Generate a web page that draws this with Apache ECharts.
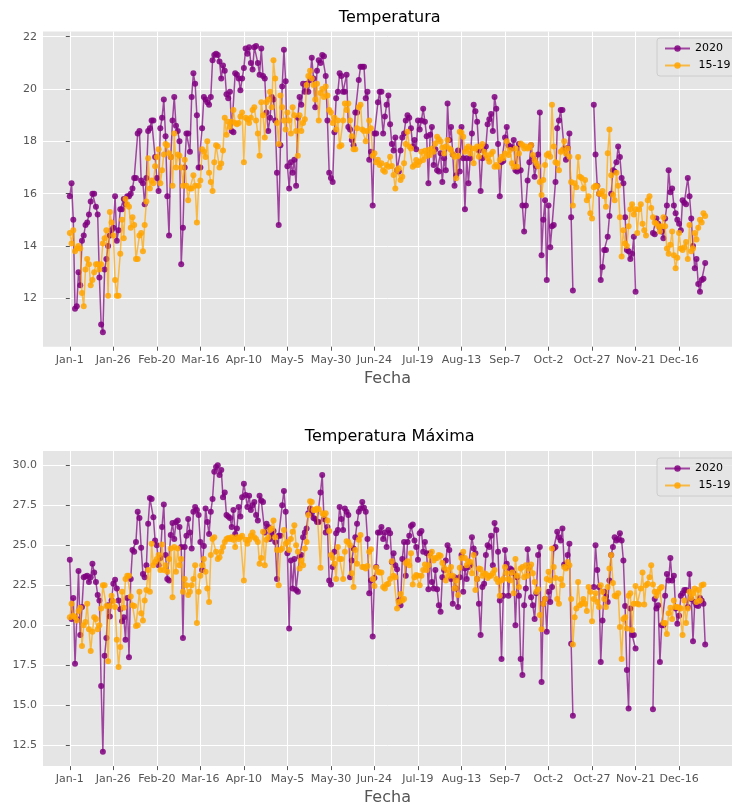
<!DOCTYPE html>
<html>
<head>
<meta charset="utf-8">
<script src="https://cdn.jsdelivr.net/npm/echarts@6/dist/echarts.min.js"></script>
<style>
  html, body { margin: 0; padding: 0; background: #ffffff; }
  #chart { width: 732px; height: 808px; }
</style>
</head>
<body>
<div id="chart"></div>
<script>
// Day-of-year positions (0 = Jan-1) of the x ticks and their labels
const tickDays = [0, 25, 50, 75, 100, 125, 150, 175, 200, 225, 250, 275, 300, 325, 350];
const tickLabels = ['Jan-1', 'Jan-26', 'Feb-20', 'Mar-16', 'Apr-10', 'May-5', 'May-30', 'Jun-24',
                    'Jul-19', 'Aug-13', 'Sep-7', 'Oct-2', 'Oct-27', 'Nov-21', 'Dec-16'];
const tempTicks = [12, 14, 16, 18, 20, 22];
const tmaxTicks = [12.5, 15, 17.5, 20, 22.5, 25, 27.5, 30];

// Mean daily temperature, 2020 (one value per day; null = no record)
const temp2020 = [
  15.9, 16.4, 15.0, 11.6, 11.7, 13.0, 12.5, 14.2, 14.4, 14.8,
  14.9, 15.2, 15.7, 16.0, 16.0, 15.5, 15.2, 12.8, 11.0, 10.7,
  13.1, 13.5, 14.0, 14.4, 14.6, 14.7, 15.9, 14.2, 14.6, 15.4,
  15.4, 15.8, 15.6, 15.9, 15.9, 16.0, 16.2, 16.6, 16.6, 18.3,
  18.4, 16.5, 16.4, 15.6, 16.6, 18.4, 18.5, 18.8, 18.8, 17.4,
  16.6, 16.1, 18.5, 18.9, 19.6, 18.2, 15.9, 14.4,
  17.4, 18.8, 19.7, 18.6, 18.4, 18.0, 13.3, 14.7, 17.0, 18.3,
  18.3, 17.6, 19.7, 20.6, 20.2, 19.0, 17.0, 17.0, 18.5, 19.7,
  19.6, 19.5, 19.4, 19.7, 21.1, 21.3, 21.35, 21.3, 21.05, 20.4,
  20.9, 20.7, 19.8, 19.65, 19.9, 18.4, 18.35, 20.6, 20.55, 20.4,
  19.95, 20.4, 20.8, 21.55, 21.35, 21.6, 21.0, 20.75, 21.6, 21.65,
  21.0, 20.55, 21.55, 20.5, 20.4, 19.1, 18.4, 18.9, 19.7, 19.6,
  18.8, 16.8,
  14.8, 17.85, 20.1, 21.5, 20.3, 17.05, 16.2, 17.2, 16.8, 17.3,
  16.3, 18.9, 19.7, 19.4, 20.2, 19.9, 20.2, 19.9, 20.35, 21.2,
  20.4, 19.3, 20.7, 21.1, 21.0, 21.3, 21.25, 20.5, 18.8, 16.8,
  16.6, 16.45, 18.35, 19.65, 19.9, 20.6, 20.5, 19.9, 19.9, 20.55,
  18.55, 18.45, 18.05, 17.85, 19.1, 19.1, 20.35, 20.85, 20.85, 20.85,
  19.65, 19.9, 17.3, 17.6, 15.55, 18.3, 18.3, 19.5, 19.9, 19.9,
  18.3, 18.95, 19.4, 19.75, 18.65, 17.9, 17.65, 18.15, 16.9, 16.85,
  17.65, 18.15, 18.3, 18.8, 19.0, 18.9, 18.5, 17.8, 18.05, 17.7,
  18.8, 18.45, 18.8, 19.25, 18.75, 18.2, 16.4, 18.25, 18.55, 17.1,
  17.7, 16.9, 16.85, 17.55, 16.45, 17.35, 16.9, 19.45, 18.05, 18.55,
  17.5, 16.3, 16.7, 17.65, 16.85, 18.55, 17.35, 15.4, 17.35, 16.4,
  17.35, 18.3, 19.4, 19.15, 18.75, 17.65, 16.1, 17.35, 17.65, 17.8,
  18.65, 18.85, 19.05, 18.4, 19.7, 19.25,
  17.9, 15.9, 17.2, 17.25, 18.15, 18.55, 17.85, 17.8, 17.75, 18.05,
  16.9, 16.85, 17.9, 16.9, 15.55, 14.55, 15.55, 16.5, 17.2, 17.85,
  17.35, 16.65, 17.05, 17.5, 19.1, 13.65, 15.0, 15.75, 12.7, 15.55,
  13.95, 14.75, 14.8, 16.45, 18.5, 18.8, 19.2, 19.2, 17.7, 17.3,
  17.75, 18.3, 15.1, 12.3,
  null, null, null, null, null, null, null, null, null, null, null,
  19.4, 17.5, 16.3, 16.0, 12.7, 13.2, 13.85, 13.85, 14.35, 15.15,
  16.0, 16.9, 16.85, 17.2, 17.8, 17.4, 16.6, 16.4, 15.1, 13.85,
  13.8, 13.5, 13.7, 14.35, 12.25,
  null, null, null, null, null, null, null, null, null,
  14.5, 14.45, 15.05, 14.85, 14.7, 14.55, 14.3, 15.05, 15.55, 16.9,
  16.05, 16.2, 15.55, 15.25, 15.0, 14.85, 14.6, 15.75, 15.65, 15.6,
  16.6, 15.9, 15.05, 14.0, 13.15, 13.5, 12.55, 12.25, 12.7, 12.75,
  13.35
];

// Mean daily temperature, 2015-2019 average
const temp1519 = [
  14.5, 14.1, 14.6, 13.8, 13.9, 14.0, 13.9, 12.2, 11.7, 13.1,
  13.5, 13.3, 12.5, 12.7, 13.0, 13.3, 13.3, 13.1, 13.3, 14.1,
  14.3, 14.6, 12.1, 15.3, 14.9, 14.4, 12.7, 12.1, 12.1, 13.7,
  15.0, 14.3, 15.8, 15.6, 15.5, 14.7, 15.1, 14.8, 13.5, 13.5,
  14.4, 14.5, 13.8, 14.8, 15.7, 17.35, 16.2, 16.5, 16.4, 17.05,
  17.4, 17.7, 16.4, 16.9, 17.5, 17.9,
  17.85, 17.55, 17.4, 16.3, 18.3, 17.0, 17.5, 17.45, 17.0, 16.3,
  17.3, 16.3, 15.75, 16.2, 16.2, 16.7, 16.3, 14.9, 16.3, 16.5,
  17.7, 17.6, 17.4, 18.0, 16.8, 16.45, 16.1, 17.2, 17.85, 17.8,
  17.0, 17.15, 17.65, 18.9, 18.25, 18.75, 18.55, 18.75, 19.2, 18.7,
  18.65, 18.7, 18.95, 19.1, 17.2, 18.9, 18.85, 18.7, 18.9, 19.2,
  19.3, 18.8, 18.3, 17.45, 19.5, 19.0, 18.15, 19.5, 19.6, 19.9,
  19.3,
  21.1, 20.4, 18.7, 17.9, 19.75, 19.3, 18.8, 18.45, 19.1, 18.8,
  18.3, 19.3, 19.0, 18.4, 17.45, 19.0, 18.4, 18.7, 18.85, 20.15,
  20.5, 20.7, 20.4, 20.15, 19.6, 20.2, 18.8, 19.85, 20.0, 19.7,
  20.1, 19.75, 19.2, 19.1, 18.7, 18.9, 18.45, 18.8, 17.8, 17.85,
  18.8, 19.45, 19.2, 19.45, 18.8, 18.2, 17.7, 17.7, 18.5, 19.3,
  19.4, 18.45, 18.4, 18.0, 18.4, 18.8, 18.5, 17.45, 17.55, 17.2,
  17.3, 17.1,
  17.16, 16.9, 16.84, 17.1, 17.03, 17.41, 17.06, 16.71, 16.2, 16.9,
  16.97, 16.52, 16.65, 17.16, 17.9, 18.37, 17.8, 17.73, 17.03, 17.1,
  17.29, 17.1, 17.22, 17.6, 17.29, 17.64, 17.44, 17.67, 17.48, 17.73,
  17.6, 17.92, 18.18, 18.08, 17.99, 17.77, 17.54, 17.8, 18.05, 17.73,
  17.67, 17.52, 17.41, 16.59, 17.44, 18.37, 18.33, 18.18, 17.6, 17.73,
  17.8, 17.54, 17.73, 17.16, 17.73, 17.8, 17.41, 17.8, 17.9, 17.6,
  17.48, 17.35, 17.22, 17.52, 17.6, 17.03,
  17.1, 17.03, 17.29, 17.41, 17.35, 17.54, 18.0, 17.48, 17.67, 17.16,
  17.03, 17.73, 17.03, 17.54, 17.92, 17.86, 17.73, 17.8, 17.73, 17.77,
  17.86, 17.48, 17.29, 17.16, 17.05, 16.45, 15.95, 16.52, 17.1, 17.48,
  17.54, 17.41, 19.4, 17.8, 17.2, 17.16, 16.9, 17.6, 17.67, 18.0,
  17.54, 17.73, 17.41, 16.45, 15.55, 16.4, 16.25, 17.4, 16.65, 16.6,
  16.2, 16.52, 15.75, 15.9, 15.25, 15.05, 16.25, 16.3, 16.28, 16.0,
  16.0, 16.1, 15.9, 15.5,
  17.55, 18.45, 16.7, 15.95, 15.75, 16.8, 16.3, 15.1, 13.6, 14.6,
  14.1, 14.0, 14.75, 15.4, 15.6, 15.2, 15.4, 14.5, 15.4, 15.6,
  14.85, 14.6, 14.4, 15.75, 15.9, 15.45, 15.1, 14.9, 14.85, 14.75,
  14.55, 14.75, 15.1, 14.75, 13.9, 13.7, 14.05, 14.55, 13.65, 13.15,
  13.55, 14.5, 13.9, 13.85, 13.95, 14.15, 13.5, 14.8, 13.8, 13.9,
  14.5, 14.25, 14.7, 15.0, 14.9, 15.25, 15.15
];

// Daily maximum temperature, 2020 (null = no record)
const tmax2020 = [
  24.1, 20.4, 21.7, 17.6, 20.4, 23.4, 19.4, 21.15, 23.0, 23.05,
  23.1, 22.7, 23.0, 23.85, 23.3, 22.7, 21.9, 21.55, 16.2, 12.1,
  18.1, 19.2, 21.25, 20.55, 21.55, 22.6, 22.85, 22.3, 21.55, 21.0,
  20.25, 20.5, 19.1, 21.7, 18.0, 22.9, 24.7, 24.6, 25.2, 27.1,
  26.7, 24.85, 23.2, 23.0, 23.75, 26.35, 27.95, 27.9, 26.75, 25.3,
  25.0, 23.75, 24.2, 26.15,
  27.55, 24.4, 22.9, 22.8, 25.65, 26.4, 25.4, 26.45, 26.55, 26.15,
  24.9, 19.2, 24.9, 25.6, 26.65, 25.8, 24.8, 27.1, 27.4, 27.2,
  26.9, 25.2, 23.45, 24.95, 27.3, 26.45, 25.7, 27.1, 27.9, 29.6,
  29.9, 30.0, 29.4, 29.7, 28.0, 28.3, 26.9, 26.8, 26.7, 26.15,
  27.2, 25.7, 26.05, 27.4, 26.8, 28.0, 28.85, 28.15, 27.4, 28.1,
  27.2, 27.5, 27.7, 26.9, 26.55, 28.1, 27.8, 27.7, 25.8, 26.35,
  26.15, 25.4, 25.7, 25.9, 25.2, 22.9,
  25.6, 25.6, 27.5, 28.4, 27.1, 24.5, 19.8, 24.05, 22.3, 24.15,
  22.2, 22.1, 24.3, 24.4, 25.5, 25.8, 26.05, 27.0, 27.3, 27.0,
  26.7, 26.65, 26.45, 26.45, 28.3, 29.4, 26.65, 25.8, 26.15, 22.8,
  22.55, 23.65, 24.6, 25.75, 25.95, 27.4, 26.65, 25.95, 27.3, 27.1,
  26.9, 23.0, 24.05, 24.8, 25.5, 26.35, 27.1, 27.3, 27.7, 27.35,
  27.1, 25.4, 22.0, 22.8, 19.3, 22.95, 23.65, 25.8, 25.8, 26.15,
  25.4, 25.8, 24.9,
  25.95, 25.75, 23.95, 24.5, 23.75, 23.5, 21.55, 21.25, 24.15, 25.2,
  23.1, 25.2, 25.6, 26.2, 26.3, 25.3, 24.9, 24.1, 25.75, 25.9,
  24.6, 25.2, 24.5, 22.25, 24.5, 22.7, 22.3, 23.45, 22.25, 21.25,
  20.85, 23.0, 23.45, 24.05, 25.0, 24.7, 22.9, 21.35, 23.0, 22.3,
  21.15, 23.0, 24.4, 22.1, 23.55, 22.9, 23.65, 23.75, 25.5, 24.8,
  24.5, 22.9, 21.35, 19.4, 22.4, 22.6, 24.4, 25.0, 24.9, 25.6,
  23.75, 26.4, 25.95,
  24.6, 21.55, 17.9, 21.85, 24.7, 23.85, 21.85, 23.55, 23.45, 23.25,
  20.0, 23.0, 21.85, 17.9, 16.9, 21.25, 22.3, 24.75, 23.65, 21.75,
  21.25, 20.4, 22.0, 24.4, 24.9, 16.45, 21.35, 21.65, 19.6, 22.1,
  21.45, 22.4, 24.8, 24.9, 25.85, 25.5, 25.3, 26.05, 23.8, 23.65,
  24.4, 25.1, 18.85, 14.35,
  null, null, null, null, null, null, null, null, null, null, null,
  22.4, 25.0, 23.45, 22.4, 17.7, 20.3, 22.1, 21.8, 21.45, 22.8,
  24.4, 24.9, 25.5, 25.3, 25.4, 25.75, 25.3, 24.05, 21.2, 17.2,
  14.8, 21.05, 19.4, 19.4, 18.55,
  null, null, null, null, null, null, null, null, null,
  14.75, 21.65, 21.05, 21.25, 17.7, 20.0, 20.0, 21.85, 23.2, 22.8,
  24.2, 22.8, 23.1, 21.05, 20.1, 20.6, 21.85, 22.0, 22.2, 22.2,
  21.15, 23.2, 21.65, 19.0, 21.45, 21.25, 21.2, 21.7, 21.55, 21.35,
  18.8
];

// Daily maximum temperature, 2015-2019 average
const tmax1519 = [
  20.5, 21.35, 20.6, 20.5, 20.3, 20.9, 21.1, 18.7, 20.0, 20.2,
  21.35, 19.75, 18.4, 19.6, 20.5, 20.4, 19.75, 20.0, 21.05, 22.5,
  22.5, 21.2, 17.75, 21.2, 21.85, 21.5, 21.15, 19.1, 17.4, 18.65,
  22.1, 21.1, 22.9, 23.1, 23.1, 21.8, 21.25, 21.2, 19.95, 20.0,
  22.1, 20.75, 20.3, 21.55, 22.2, 23.45, 22.1, 25.1, 23.75, 23.95,
  24.15, 24.4, 23.45, 25.05, 23.45, 23.75, 23.35, 24.15,
  24.8, 21.75, 24.9, 23.35, 24.8, 23.75, 24.15, 22.1, 22.9, 22.5,
  21.9, 22.1, 22.5, 22.9, 23.75, 20.15, 22.1, 23.1, 23.75, 24.15,
  23.35, 22.3, 21.45, 24.4, 25.4, 25.5, 24.6, 24.15, 24.25, 24.6,
  24.9, 25.2, 25.4, 25.45, 25.4, 25.5, 25.35, 24.9, 25.5, 25.4,
  25.5, 25.6, 22.8, 25.35, 25.1, 25.35, 25.6, 25.8, 25.5, 25.4,
  25.2, 23.85, 24.2, 25.85, 23.75, 25.35, 25.5, 25.95, 26.05, 26.55,
  25.5, 24.7,
  22.5, 24.7, 24.8, 25.95, 25.1, 25.2, 24.7, 25.4, 25.85, 26.25,
  25.0, 24.6, 23.55, 24.05, 23.75, 24.8, 25.2, 26.9, 27.75, 27.7,
  27.2, 27.2, 27.3, 27.25, 23.6, 27.0, 26.9, 27.0, 26.55, 25.9,
  24.4, 24.2, 23.85, 22.9, 24.9, 24.15, 24.15, 22.9, 24.6, 25.25,
  25.2, 25.0, 23.25, 22.4, 24.7, 23.85, 25.35, 25.65, 23.65, 23.65,
  23.55, 23.7, 24.6, 24.75, 22.9, 22.45, 23.6, 23.35, 23.3, 23.3,
  22.4, 22.3, 22.55,
  22.6, 22.9, 24.0, 23.1, 23.0, 21.05, 21.45, 21.95, 21.55, 21.65,
  23.9, 24.0, 23.75, 24.5, 22.55, 23.0, 23.15, 23.1, 22.5, 23.1,
  23.45, 23.8, 23.45, 23.75, 24.35, 24.6, 24.05, 24.2, 24.2, 24.4,
  24.35, 23.9, 23.6, 22.8, 23.45, 23.1, 23.65, 23.1, 22.3, 22.8,
  21.9, 23.6, 24.2, 24.6, 24.2, 23.75, 24.0, 23.95, 23.25, 24.4,
  22.2, 22.9, 23.55, 23.5, 23.1, 23.25, 23.2, 22.95, 23.1, 23.1,
  23.25, 23.45,
  22.9, 22.7, 21.85, 22.8, 22.9, 23.65, 23.25, 22.9, 22.8, 23.3,
  22.0, 24.15, 23.1, 22.4, 23.55, 23.65, 23.0, 23.75, 23.1, 23.55,
  23.8, 23.25, 22.7, 22.1, 22.25, 20.65, 19.75, 21.35, 21.65, 22.9,
  23.35, 22.8, 24.8, 23.65, 22.95, 21.65, 21.35, 22.9, 22.5, 23.65,
  23.55, 23.95, 23.75, 21.65, 18.8, 20.5, 21.05, 22.7, 21.25, 21.35,
  21.65, 21.35, 20.9, 22.4, 22.1, 20.25, 21.65, 22.0, 21.45, 21.15,
  22.5, 22.1, 21.65, 21.15,
  22.4, 23.55, 24.4, 22.65, 21.85, 21.8, 22.0, 19.9, 17.9, 20.4,
  20.5, 19.8, 21.85, 22.0, 19.7, 21.35, 22.45, 21.35, 21.3, 22.3,
  23.3, 21.3, 22.5, 22.6, 23.0, 23.75, 22.55, 22.1, 21.85, 22.1,
  22.3, 22.4, 20.15, 20.15, 19.45, 20.75, 21.1, 20.4, 21.55, 21.15,
  21.15, 21.1, 21.05, 19.4, 21.55, 20.15, 21.05, 22.1, 21.7, 22.0,
  22.3, 21.45, 22.2, 21.55, 22.5, 22.55
];

const seriesNames = ['2020', ' 15-19'];
const seriesColors = ['#800080', '#ffa500'];

const FONT = 'DejaVu Sans';
const TEXT_GREY = '#555555';

// Shared plot-area geometry (pixels)
const PLOT_LEFT = 43;
const PLOT_WIDTH = 693.4;
const PLOT_HEIGHT = 315.2;
const PLOT_TOPS = [31.5, 450.9];

function toPoints(values) {
  return values.map((v, i) => [i, v === null ? '-' : v]);
}

function makeXAxis(gridIndex) {
  return {
    type: 'value',
    gridIndex: gridIndex,
    min: -15.4,
    max: 380.4,
    axisLine: { show: false },
    axisTick: {
      show: true, length: 4, customValues: tickDays,
      lineStyle: { color: TEXT_GREY, width: 1 }
    },
    axisLabel: {
      customValues: tickDays,
      formatter: v => tickLabels[tickDays.indexOf(v)],
      color: TEXT_GREY, fontFamily: FONT, fontSize: 11, margin: 8
    },
    splitLine: { show: true, lineStyle: { color: '#ffffff', width: 1 } },
    name: 'Fecha',
    nameLocation: 'middle',
    nameGap: 24,
    nameTextStyle: { color: TEXT_GREY, fontFamily: FONT, fontSize: 16 }
  };
}

function makeYAxis(gridIndex, min, max, ticks, digits) {
  return {
    type: 'value',
    gridIndex: gridIndex,
    min: min,
    max: max,
    axisLine: { show: false },
    axisTick: {
      show: true, length: 4, customValues: ticks,
      lineStyle: { color: TEXT_GREY, width: 1 }
    },
    axisLabel: {
      customValues: ticks,
      formatter: v => v.toFixed(digits),
      color: TEXT_GREY, fontFamily: FONT, fontSize: 11, margin: 6
    },
    splitLine: { show: true, lineStyle: { color: '#ffffff', width: 1 } }
  };
}

function makeLine(name, color, values, gridIndex, z) {
  return {
    name: name,
    type: 'line',
    xAxisIndex: gridIndex,
    yAxisIndex: gridIndex,
    data: toPoints(values),
    symbol: 'circle',
    symbolSize: 6,
    showSymbol: true,
    connectNulls: false,
    itemStyle: { color: color, opacity: 0.85 },
    lineStyle: { color: color, width: 1.5, opacity: 0.7 },
    emphasis: { disabled: true },
    z: z,
    animation: false
  };
}

function makeLegend(top) {
  return {
    data: seriesNames,
    orient: 'vertical',
    left: 657,
    top: top,
    itemWidth: 25,
    itemHeight: 8,
    itemGap: 6,
    padding: [5, 7, 5, 7],
    backgroundColor: 'rgba(229,229,229,0.8)',
    borderColor: '#cccccc',
    borderWidth: 1,
    borderRadius: 3,
    textStyle: { color: '#000000', fontFamily: FONT, fontSize: 11 },
    selectedMode: false
  };
}

const chart = echarts.init(document.getElementById('chart'), null, { renderer: 'canvas' });

const plotCenterX = PLOT_LEFT + PLOT_WIDTH / 2;

function makeTitle(text, y) {
  return {
    type: 'text', x: plotCenterX, y: y,
    style: {
      text: text, fill: '#000000', font: '16px "DejaVu Sans"',
      align: 'center', verticalAlign: 'middle',
      textAlign: 'center', textVerticalAlign: 'middle'
    }
  };
}

chart.setOption({
  backgroundColor: '#ffffff',
  animation: false,
  textStyle: { fontFamily: FONT },
  grid: PLOT_TOPS.map(top => ({
    left: PLOT_LEFT, top: top, width: PLOT_WIDTH, height: PLOT_HEIGHT,
    show: true, backgroundColor: '#e5e5e5', borderWidth: 0
  })),
  xAxis: [makeXAxis(0), makeXAxis(1)],
  yAxis: [
    makeYAxis(0, 10.15, 22.2, tempTicks, 0),
    makeYAxis(1, 11.2, 30.9, tmaxTicks, 1)
  ],
  legend: [makeLegend(38), makeLegend(458)],
  graphic: [
    makeTitle('Temperatura', 18),
    makeTitle('Temperatura Máxima', 437)
  ],
  series: [
    makeLine(seriesNames[0], seriesColors[0], temp2020, 0, 2),
    makeLine(seriesNames[1], seriesColors[1], temp1519, 0, 3),
    makeLine(seriesNames[0], seriesColors[0], tmax2020, 1, 2),
    makeLine(seriesNames[1], seriesColors[1], tmax1519, 1, 3)
  ]
});
</script>
</body>
</html>
